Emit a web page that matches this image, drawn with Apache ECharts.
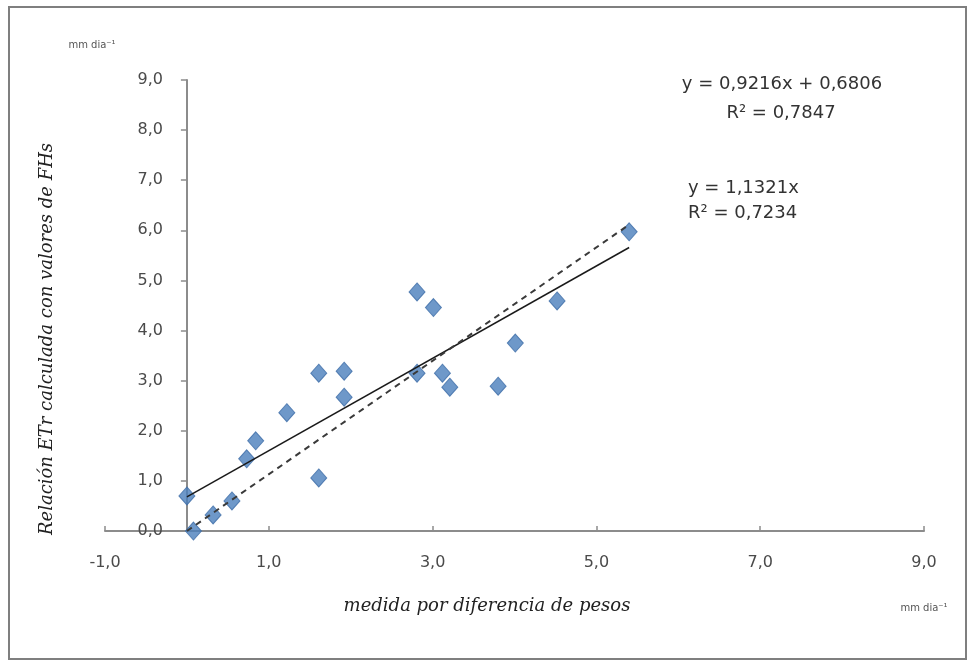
<!DOCTYPE html>
<html>
<head>
<meta charset="utf-8">
<script src="https://cdn.jsdelivr.net/npm/echarts@6/dist/echarts.min.js"></script>
<style>html,body{margin:0;padding:0;background:#fff}#c{width:974px;height:661px}</style>
</head>
<body>
<div id="c"></div>
<script>
// Measured (x) vs calculated (y) ETr values, mm dia-1
const xValues = [0.00, 0.08, 0.32, 0.55, 0.73, 0.84, 1.22, 1.61, 1.61, 1.92, 1.92, 2.81, 3.01, 2.81, 3.12, 3.21, 3.80, 4.01, 4.52, 5.40];
const yValues = [0.70, 0.00, 0.32, 0.60, 1.44, 1.80, 2.36, 3.15, 1.06, 3.19, 2.67, 4.77, 4.46, 3.15, 3.15, 2.87, 2.89, 3.75, 4.59, 5.97];
// Trendline coefficients as printed on the chart
const linearFit = { slope: 0.9216, intercept: 0.6806 };
const originFit = { slope: 1.1321, intercept: 0 };
const xTicks = { min: -1, max: 9, interval: 2 };
const yTicks = { min: 0, max: 9, interval: 1 };

const points = xValues.map((x, i) => [x, yValues[i]]);
const xMin = Math.min(...xValues), xMax = Math.max(...xValues);
const fitLine = f => [[xMin, f.slope * xMin + f.intercept], [xMax, f.slope * xMax + f.intercept]];
const fmt = v => v.toFixed(1).replace('.', ',');

const gridLeft = 105, gridRight = 50;
const gridWidth = 974 - gridLeft - gridRight;
// y axis crosses the x axis at x = 0
const yAxisOffset = -((0 - xTicks.min) / (xTicks.max - xTicks.min)) * gridWidth;

const chart = echarts.init(document.getElementById('c'), null, { renderer: 'canvas' });
const labelColor = '#4a4a4a';
chart.setOption({
  animation: false,
  backgroundColor: '#fff',
  grid: { left: gridLeft, right: gridRight, top: 80, bottom: 130 },
  xAxis: {
    type: 'value', min: xTicks.min, max: xTicks.max, interval: xTicks.interval,
    axisLine: { onZero: false, lineStyle: { color: '#8c8c8c', width: 2 } },
    axisTick: { show: true, inside: true, length: 5, lineStyle: { color: '#8c8c8c', width: 1.5 } },
    axisLabel: { formatter: fmt, margin: 24, color: labelColor, fontSize: 16, fontFamily: 'DejaVu Sans' },
    splitLine: { show: false }
  },
  yAxis: {
    type: 'value', min: yTicks.min, max: yTicks.max, interval: yTicks.interval,
    offset: yAxisOffset,
    axisLine: { onZero: false, lineStyle: { color: '#8c8c8c', width: 2 } },
    axisTick: { show: true, length: 6, lineStyle: { color: '#8c8c8c', width: 1.5 } },
    axisLabel: { formatter: fmt, margin: 24, color: labelColor, fontSize: 16, fontFamily: 'DejaVu Sans' },
    splitLine: { show: false }
  },
  series: [
    {
      type: 'scatter', data: points, symbol: 'diamond', symbolSize: [16, 18], z: 2,
      itemStyle: { color: '#4a7ebb', borderColor: '#3d6da8', borderWidth: 1 }
    },
    {
      type: 'line', data: fitLine(linearFit), symbol: 'none', z: 3,
      lineStyle: { color: '#1a1a1a', width: 1.5 }
    },
    {
      type: 'line', data: fitLine(originFit), symbol: 'none', z: 3,
      lineStyle: { color: '#3a3a3a', width: 2, type: [6, 5] }
    }
  ],
  graphic: [
    { type: 'rect', shape: { x: 9, y: 7, width: 957, height: 652 }, style: { fill: 'none', stroke: '#7f7f7f', lineWidth: 2 }, silent: true },
    { type: 'text', x: 47, y: 339, rotation: Math.PI / 2,
      style: { text: 'Relación ETr calculada con valores de FHs', font: 'italic 18px "DejaVu Serif"', fill: '#222', align: 'center', verticalAlign: 'middle' } },
    { type: 'text', x: 487, y: 606,
      style: { text: 'medida por diferencia de pesos', font: 'italic 18px "DejaVu Serif"', fill: '#222', align: 'center', verticalAlign: 'middle' } },
    { type: 'text', x: 92, y: 45,
      style: { text: 'mm dia⁻¹', font: '10px "DejaVu Sans"', fill: '#555', align: 'center', verticalAlign: 'middle' } },
    { type: 'text', x: 924, y: 608,
      style: { text: 'mm dia⁻¹', font: '10px "DejaVu Sans"', fill: '#555', align: 'center', verticalAlign: 'middle' } },
    { type: 'text', x: 782, y: 84,
      style: { text: 'y = 0,9216x + 0,6806', font: '18px "DejaVu Sans"', fill: '#333', align: 'center', verticalAlign: 'middle' } },
    { type: 'text', x: 781, y: 113,
      style: { text: 'R² = 0,7847', font: '18px "DejaVu Sans"', fill: '#333', align: 'center', verticalAlign: 'middle' } },
    { type: 'text', x: 688, y: 188,
      style: { text: 'y = 1,1321x', font: '18px "DejaVu Sans"', fill: '#333', align: 'left', verticalAlign: 'middle' } },
    { type: 'text', x: 688, y: 213,
      style: { text: 'R² = 0,7234', font: '18px "DejaVu Sans"', fill: '#333', align: 'left', verticalAlign: 'middle' } }
  ]
});
</script>
</body>
</html>
